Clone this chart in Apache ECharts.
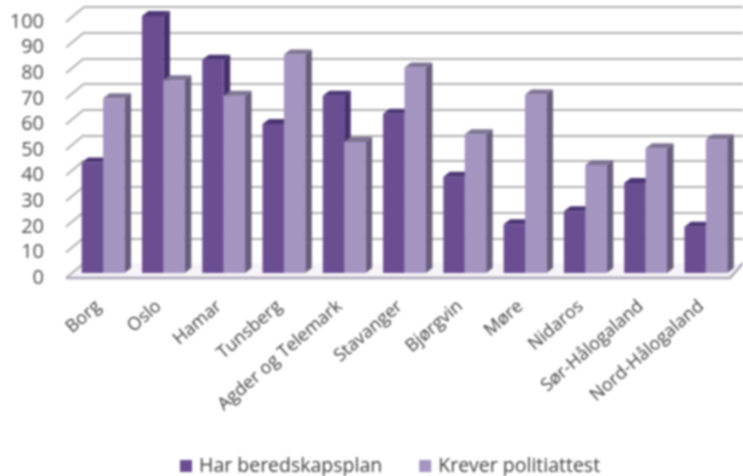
<!DOCTYPE html>
<html><head><meta charset="utf-8">
<style>html,body{margin:0;padding:0;background:#fff}#c{width:743px;height:476px;filter:blur(0.8px)}</style>
<script src="https://cdn.jsdelivr.net/npm/echarts@6/dist/echarts.min.js"></script>
</head><body><div id="c"></div>
<script>
const categories = ["Borg","Oslo","Hamar","Tunsberg","Agder og Telemark","Stavanger","Bjørgvin","Møre","Nidaros","Sør-Hålogaland","Nord-Hålogaland"];
const beredskap = [43,100,83,58,69,62,37.5,19,24,35,18];
const politiattest = [68,75,69,85,51,80,54,69.5,42,48.5,52];
const yTicks = [0,10,20,30,40,50,60,70,80,90,100];
const seriesNames = ["Har beredskapsplan","Krever politiattest"];
const wallDx = 18, wallDy = -15, barDx = 6.5, barDy = -5, barW = 0.355;
const palette = [
  {front:"#6b4d92", side:"#46306c", top:"#4b3573"},
  {front:"#a394c0", side:"#675d7c", top:"#7e7493"}
];
function barSeries(name, values, idx){
  const c = palette[idx];
  return {
    name, type:"custom", xAxisIndex:0, yAxisIndex:0, z:5,
    itemStyle:{color:c.front},
    data: values.map((v,i)=>[i,v]),
    renderItem(params, api){
      const p = api.coord([api.value(0), api.value(1)]);
      const b = api.coord([api.value(0), 0]);
      const w = api.size([1,0])[0]*barW;
      const x0 = p[0] + (idx===0 ? -w : 0), x1 = x0 + w;
      const poly = (pts,fill)=>({type:"polygon",shape:{points:pts},style:{fill}});
      return {type:"group",children:[
        poly([[x1,p[1]],[x1+barDx,p[1]+barDy],[x1+barDx,b[1]+barDy],[x1,b[1]]],c.side),
        poly([[x0,p[1]],[x0+barDx,p[1]+barDy],[x1+barDx,p[1]+barDy],[x1,p[1]]],c.top),
        {type:"rect",shape:{x:x0,y:p[1],width:w,height:b[1]-p[1]},style:{fill:c.front}}
      ]};
    }
  };
}
const gridStroke = {stroke:"#b0b0b0",lineWidth:2,fill:null};
const option = {
  animation:false, backgroundColor:"#fff",
  grid:[
    {left:73,width:663,top:16,height:257},
    {left:66,width:664,top:22,height:256},
    {left:84,width:659,top:7,height:257}
  ],
  xAxis:[
    {type:"category",gridIndex:0,data:categories,axisLine:{show:false},axisTick:{show:false},
     axisLabel:{rotate:41,interval:0,margin:27,padding:[0,6,0,0],color:"#3d3d3d",fontFamily:"Open Sans",fontSize:18}},
    {type:"value",gridIndex:1,min:0,max:1,show:false},
    {type:"value",gridIndex:2,min:0,max:1,show:false}
  ],
  yAxis:[
    {type:"value",gridIndex:0,min:0,max:100,interval:10,show:false},
    {type:"value",gridIndex:1,min:0,max:100,interval:10,axisLine:{show:false},axisTick:{show:false},splitLine:{show:false},
     axisLabel:{margin:22,color:"#4d4d4d",fontFamily:"Open Sans",fontSize:20}},
    {type:"value",gridIndex:2,min:0,max:100,interval:10,axisLine:{show:false},axisTick:{show:false},axisLabel:{show:false},
     splitLine:{show:true,lineStyle:{color:"#b0b0b0",width:2}}}
  ],
  legend:{data:seriesNames,left:175,top:451,itemWidth:12,itemHeight:12,itemGap:37,icon:"rect",
    textStyle:{color:"#3d3d3d",fontFamily:"Open Sans",fontSize:19.5,padding:[0,0,0,2]}},
  series:[
    {type:"custom",xAxisIndex:1,yAxisIndex:1,z:3,silent:true,data:yTicks.map(v=>[0,v]),
     renderItem(params,api){
       const v = api.value(1);
       const a = api.coord([0,v]);
       const ch = [{type:"polyline",shape:{points:[a,[a[0]+wallDx,a[1]+wallDy]]},style:gridStroke}];
       if(v===0){
         const r = api.coord([1,0]);
         ch.unshift({type:"polygon",shape:{points:[a,r,[r[0]+wallDx-5,r[1]+wallDy],[a[0]+wallDx,a[1]+wallDy]]},
           style:{fill:"#f6f4f8"}});
         ch.push({type:"polyline",shape:{points:[a,r,[r[0]+wallDx-5,r[1]+wallDy]]},style:{stroke:"#aaa4b6",lineWidth:2.5,fill:null}});
       }
       return {type:"group",children:ch};
     }},
    barSeries(seriesNames[0],beredskap,0),
    barSeries(seriesNames[1],politiattest,1)
  ]
};
const chart = echarts.init(document.getElementById("c"),null,{renderer:"canvas"});
chart.setOption(option);
</script></body></html>
